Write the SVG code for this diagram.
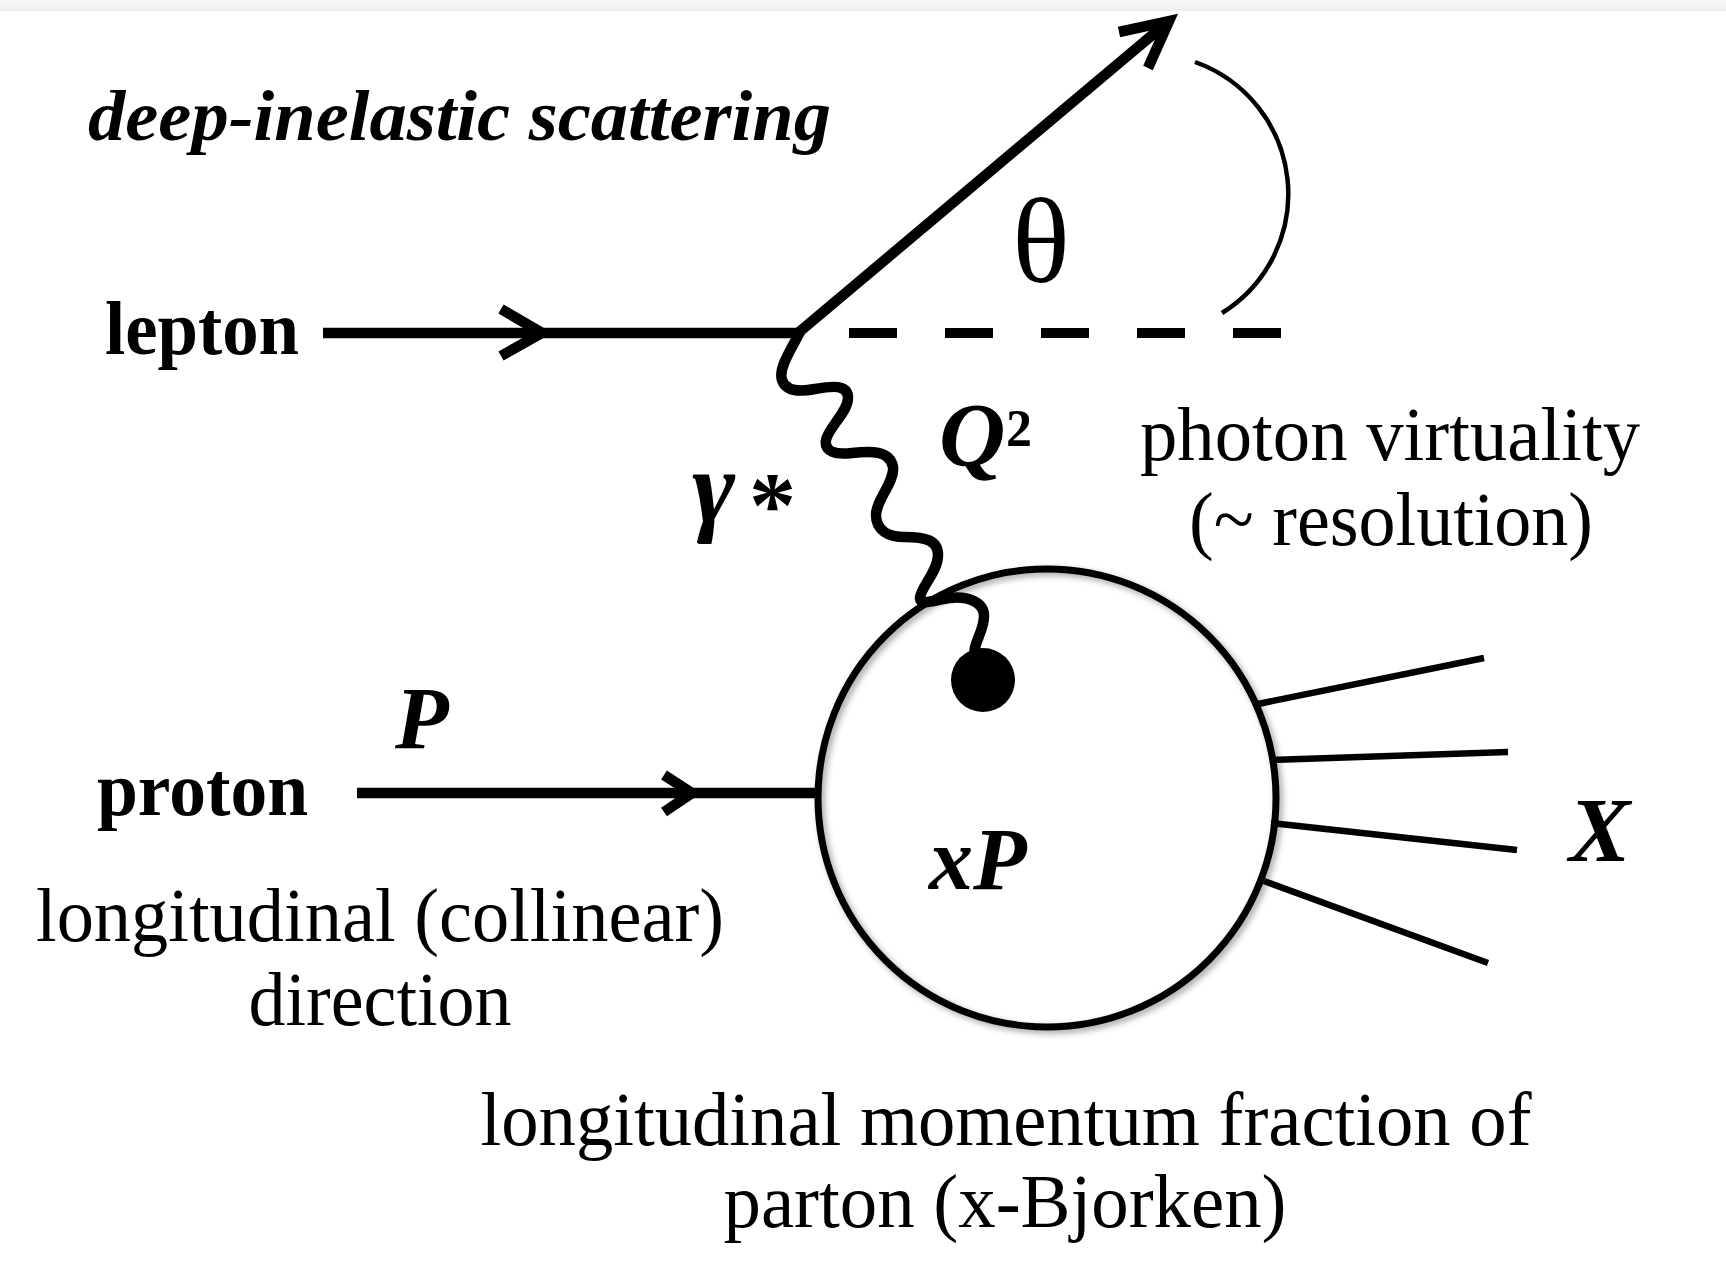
<svg xmlns="http://www.w3.org/2000/svg" width="1726" height="1273" viewBox="0 0 1726 1273">
<defs>
<linearGradient id="topband" x1="0" y1="0" x2="0" y2="1">
<stop offset="0" stop-color="#f9f9f9"/>
<stop offset="1" stop-color="#eeeeee"/>
</linearGradient>
<filter id="shadow" x="-20%" y="-20%" width="140%" height="140%">
<feDropShadow dx="3" dy="3" stdDeviation="3" flood-color="#000" flood-opacity="0.35"/>
</filter>
<style>
.t{font-family:"Liberation Serif","Times New Roman",serif;fill:#000}
.b{font-weight:bold}
.i{font-style:italic}
.thick{stroke:#000;stroke-width:10.5;fill:none;stroke-linecap:butt}
.head{stroke:#000;stroke-width:10.5;fill:none;stroke-linejoin:miter}
.out{stroke:#000;stroke-width:6.5;fill:none}
</style>
</defs>
<rect x="0" y="0" width="1726" height="1273" fill="#fff"/>
<rect x="0" y="0" width="1726" height="11" fill="url(#topband)"/>

<g id="title">
<text class="t b i" x="88" y="140" font-size="72" textLength="743" lengthAdjust="spacingAndGlyphs">deep-inelastic scattering</text>
</g>

<g id="lepton-label">
<text class="t b" x="105" y="354" font-size="76" textLength="194" lengthAdjust="spacingAndGlyphs">lepton</text>
</g>

<g id="proton-label">
<text class="t b" x="97" y="815" font-size="76" textLength="211" lengthAdjust="spacingAndGlyphs">proton</text>
<text class="t b i" x="395" y="748" font-size="88">P</text>
</g>

<g id="longitudinal-label">
<text class="t" x="380" y="941" font-size="76" text-anchor="middle" textLength="688" lengthAdjust="spacingAndGlyphs">longitudinal (collinear)</text>
<text class="t" x="380" y="1025" font-size="76" text-anchor="middle" textLength="263" lengthAdjust="spacingAndGlyphs">direction</text>
</g>

<g id="virtuality-label">
<text class="t" x="1390" y="460" font-size="76" text-anchor="middle" textLength="500" lengthAdjust="spacingAndGlyphs">photon virtuality</text>
<text class="t" x="1391" y="545" font-size="76" text-anchor="middle" textLength="404" lengthAdjust="spacingAndGlyphs">(~ resolution)</text>
</g>

<g id="momentum-label">
<text class="t" x="1006" y="1145" font-size="76" text-anchor="middle" textLength="1051" lengthAdjust="spacingAndGlyphs">longitudinal momentum fraction of</text>
<text class="t" x="1005" y="1227" font-size="76" text-anchor="middle" textLength="563" lengthAdjust="spacingAndGlyphs">parton (x-Bjorken)</text>
</g>

<g id="theta-label">
<text class="t" x="1041" y="282" font-size="120" text-anchor="middle">θ</text>
</g>

<g id="q2-label">
<text class="t b i" x="939" y="466" font-size="92">Q</text>
<text class="t b" x="1006" y="446" font-size="52">2</text>
</g>

<g id="gamma-label">
<text class="t b i" x="692" y="522" font-size="104">γ</text>
<text class="t b" x="749" y="536" font-size="94">*</text>
</g>

<g id="proton-blob">
<circle cx="1047" cy="798" r="229" fill="#fff"/>
<circle cx="1047" cy="798" r="229" fill="none" stroke="#000" stroke-width="7" filter="url(#shadow)"/>
<text class="t b i" x="929" y="889" font-size="88">xP</text>
</g>

<g id="x-label">
<text class="t b i" x="1569" y="861" font-size="92">X</text>
</g>

<g id="connectors">
<!-- incoming lepton -->
<line class="thick" x1="323" y1="333" x2="802" y2="333"/>
<polyline class="head" points="501,309 542,333 501,356"/>
<!-- outgoing lepton -->
<line class="thick" x1="798" y1="333" x2="1163" y2="26"/>
<polyline class="head" points="1119,32 1169,21 1148,68"/>
<!-- dashed reference -->
<line x1="849" y1="333" x2="1281" y2="333" stroke="#000" stroke-width="10" stroke-dasharray="48 48"/>
<!-- theta arc -->
<path d="M1195,62 A140,140 0 0 1 1222,313" fill="none" stroke="#000" stroke-width="4.5"/>
<!-- incoming proton -->
<line class="thick" x1="357" y1="793" x2="817" y2="793"/>
<polyline class="head" points="664,775 692,793 664,812"/>
<!-- virtual photon -->
<path d="M800,332 C792,348 778,368 782,380 C786,392 800,392 815,389 C832,386 848,384 848,398 C848,412 828,428 826,440 C824,452 836,455 852,453 C870,451 890,450 893,467 C895,482 876,500 876,515 C876,530 888,537 905,537 C925,537 938,540 938,555 C938,572 920,588 920,598 C920,606 935,600 950,598 C968,596 984,602 984,616 C984,632 972,645 975,655" fill="none" stroke="#000" stroke-width="10.5" stroke-linecap="round"/>
<circle cx="983" cy="680" r="32" fill="#000"/>
<!-- outgoing X fragments -->
<line class="out" x1="1258" y1="704" x2="1484" y2="658"/>
<line class="out" x1="1271" y1="760" x2="1508" y2="752" stroke="#1e1e1e"/>
<line class="out" x1="1271" y1="823" x2="1517" y2="850" stroke="#1e1e1e"/>
<line class="out" x1="1264" y1="881" x2="1488" y2="963"/>
</g>
</svg>
